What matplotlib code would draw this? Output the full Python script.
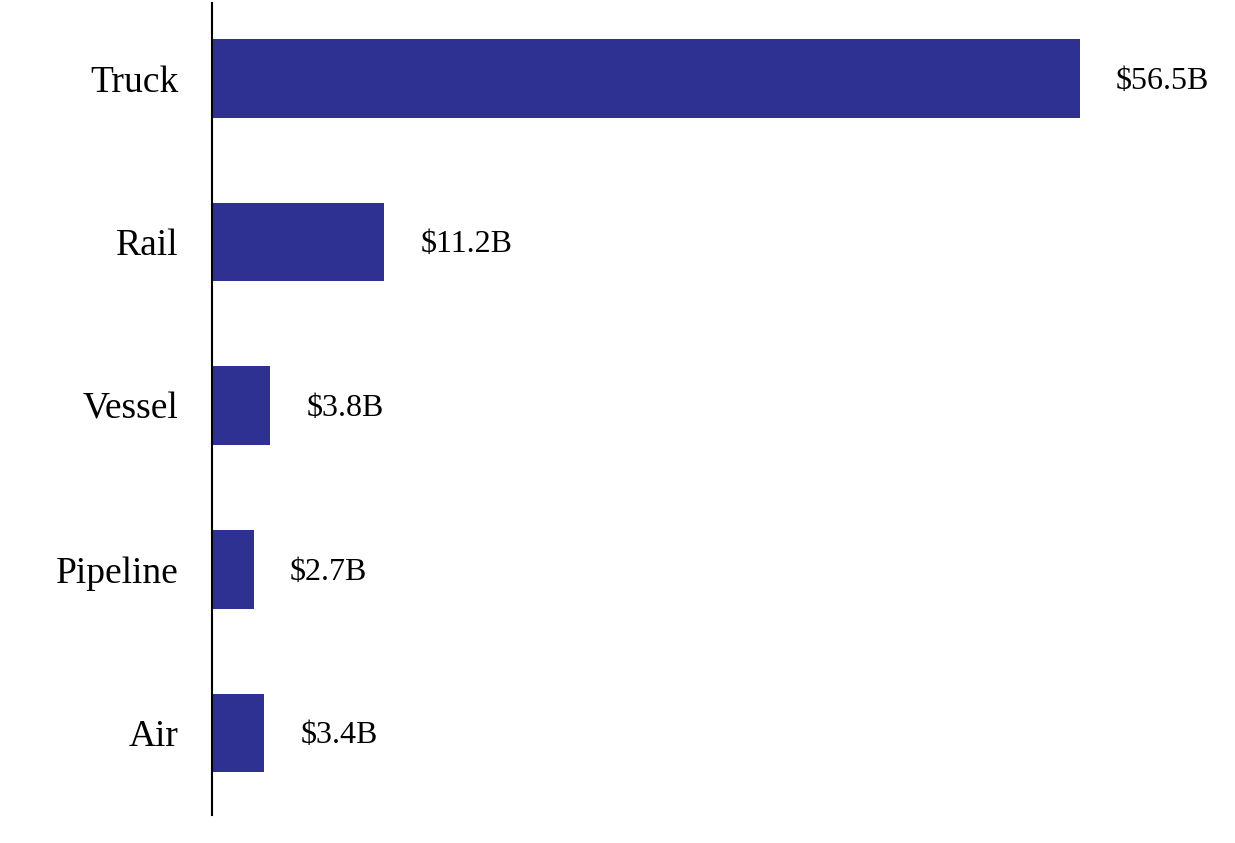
import matplotlib.pyplot as plt
import numpy as np

# freight value by mode (billions of dollars)
modes = ['Truck', 'Rail', 'Vessel', 'Pipeline', 'Air']
values = [56.5, 11.2, 3.8, 2.7, 3.4]
labels = ['$56.5B', '$11.2B', '$3.8B', '$2.7B', '$3.4B']

bar_color = '#2E3192'

plt.rcParams['font.family'] = ['Liberation Serif', 'DejaVu Serif']

fig = plt.figure(figsize=(12.35, 8.43), dpi=100)
ax = fig.add_axes([0.1717, 0.0332, 0.8283, 0.9632])

ypos = np.arange(len(modes))[::-1]
ax.barh(ypos, values, height=0.48, color=bar_color)

# value labels to the right of each bar
for y, v, lab in zip(ypos, values, labels):
    ax.annotate(lab, xy=(v, y), xytext=(26, -2), textcoords='offset points',
                ha='left', va='center', fontsize=23)

ax.set_xlim(0, 66.6)
ax.set_ylim(-0.5, 4.46)
ax.set_yticks(ypos)
ax.set_yticklabels(modes, fontsize=27)
ax.tick_params(axis='y', length=0, pad=24)
ax.set_xticks([])

for side in ['top', 'right', 'bottom']:
    ax.spines[side].set_visible(False)
ax.spines['left'].set_linewidth(1.5)

fig.savefig('out.png', dpi=100)
